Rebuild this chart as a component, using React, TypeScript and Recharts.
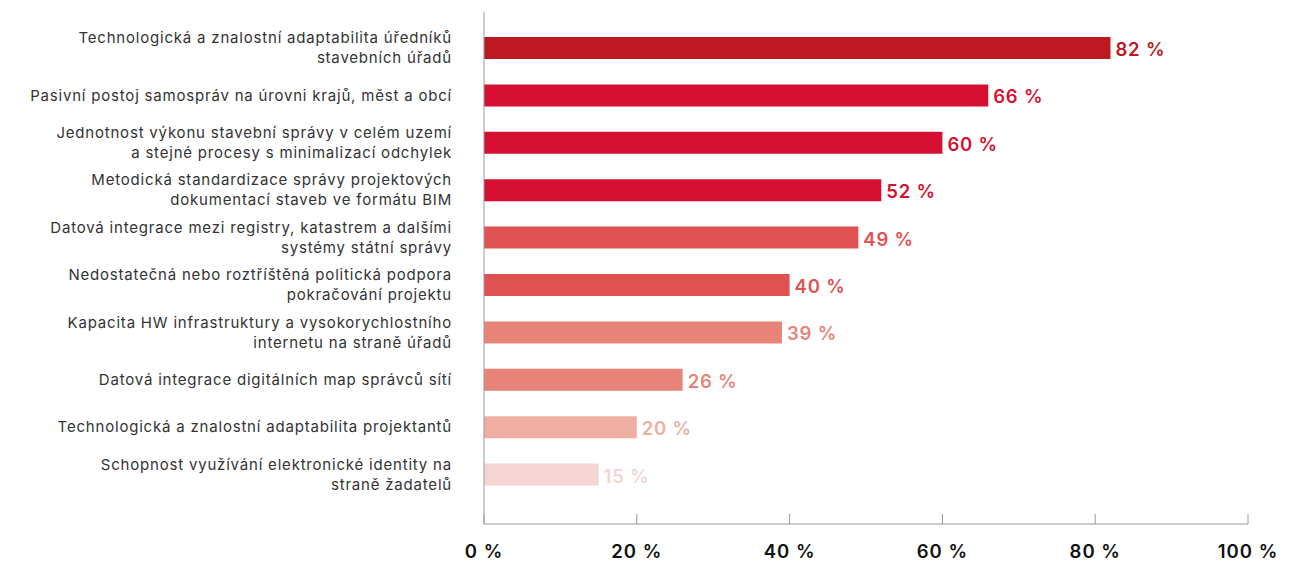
import { BarChart, Bar, XAxis, YAxis, Cell, LabelList } from 'recharts'

const categories = [
  'Technologická a znalostní adaptabilita úředníků\nstavebních úřadů',
  'Pasivní postoj samospráv na úrovni krajů, měst a obcí',
  'Jednotnost výkonu stavební správy v celém uzemí\na stejné procesy s minimalizací odchylek',
  'Metodická standardizace správy projektových\ndokumentací staveb ve formátu BIM',
  'Datová integrace mezi registry, katastrem a dalšími\nsystémy státní správy',
  'Nedostatečná nebo roztříštěná politická podpora\npokračování projektu',
  'Kapacita HW infrastruktury a vysokorychlostního\ninternetu na straně úřadů',
  'Datová integrace digitálních map správců sítí',
  'Technologická a znalostní adaptabilita projektantů',
  'Schopnost využívání elektronické identity na\nstraně žadatelů',
]
const values = [82, 66, 60, 52, 49, 40, 39, 26, 20, 15]
const barColors = ['#BE1823', '#D51033', '#D51033', '#D51033', '#E05252', '#E05252', '#E78377', '#E78377', '#EEAEA1', '#F4D5D4']
const xTicks = [0, 20, 40, 60, 80, 100]

const data = categories.map((name, i) => ({ name, value: values[i] }))

const FONT = 'Inter, "Noto Sans", sans-serif'

function CategoryTick({ x, y, payload }: any) {
  const lines = String(payload.value).split('\n')
  const lh = 20
  const start = -((lines.length - 1) * lh) / 2
  return (
    <text x={x} y={y} textAnchor="end" fill="#333" fontSize={15} letterSpacing={0.8} fontFamily={FONT}>
      {lines.map((l, i) => (
        <tspan key={i} x={x} y={y + start + i * lh} dominantBaseline="central">
          {l}
        </tspan>
      ))}
    </text>
  )
}

function PercentTick({ x, y, payload }: any) {
  return (
    <g>
      <line x1={x} x2={x} y1={y - 10} y2={y} stroke="#999" strokeWidth={1} />
      <text x={x} y={y + 27} textAnchor="middle" dominantBaseline="central" fill="#111" fontSize={18.5} letterSpacing={1} fontWeight={600} fontFamily={FONT}>
        {payload.value} %
      </text>
    </g>
  )
}

function ValueLabel({ x, y, width, height, value, index }: any) {
  return (
    <text
      x={x + width + 5}
      y={y + height / 2 + 1}
      dominantBaseline="central"
      fill={barColors[index]}
      fontSize={18.5}
      letterSpacing={0.8}
      fontWeight={600}
      fontFamily={FONT}
    >
      {value} %
    </text>
  )
}

export default function App() {
  return (
    <div style={{ position: 'absolute', left: 0, top: 0, background: '#fff' }}>
      <BarChart
        width={1313}
        height={562}
        data={data}
        layout="vertical"
        margin={{ top: 12, right: 65, bottom: 0, left: 0 }}
      >
        <XAxis
          type="number"
          domain={[0, 100]}
          ticks={xTicks}
          interval={0}
          height={38}
          tickSize={0}
          tickMargin={0}
          tick={<PercentTick />}
          stroke="#999"
        />
        <YAxis
          type="category"
          dataKey="name"
          width={484}
          padding={{ top: 12, bottom: 26 }}
          tickLine={false}
          tickSize={0}
          tickMargin={32}
          interval={0}
          tick={<CategoryTick />}
          stroke="#999"
        />
        <Bar dataKey="value" barSize={22} isAnimationActive={false}>
          {data.map((_, i) => (
            <Cell key={i} fill={barColors[i]} />
          ))}
          <LabelList dataKey="value" content={<ValueLabel />} />
        </Bar>
      </BarChart>
    </div>
  )
}
